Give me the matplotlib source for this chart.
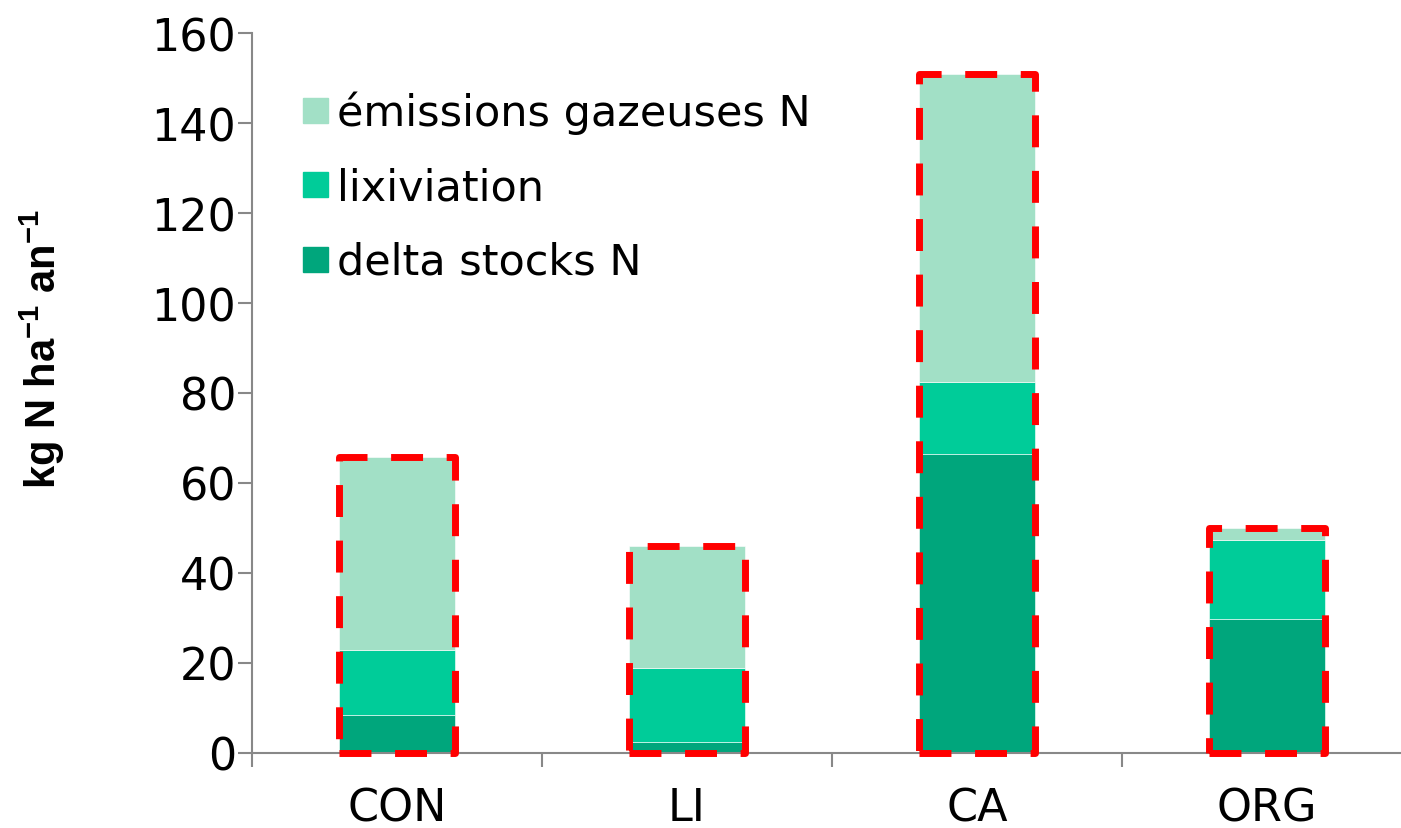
import matplotlib
matplotlib.use("Agg")
import matplotlib.pyplot as plt
from matplotlib.patches import Rectangle
from matplotlib.lines import Line2D

categories = ["CON", "LI", "CA", "ORG"]
delta_stocks = [8.4, 2.4, 66.4, 29.8]
lixiviation = [14.6, 16.4, 16.1, 17.6]
emissions = [42.8, 27.1, 68.4, 2.5]
series_names = ["émissions gazeuses N", "lixiviation", "delta stocks N"]
yticks = [0, 20, 40, 60, 80, 100, 120, 140, 160]

c_dark = "#00A67C"
c_mid = "#00CC99"
c_light = "#A2E0C6"

plt.rcParams['font.family'] = ['DejaVu Sans']
plt.rcParams['mathtext.fontset'] = 'custom'
plt.rcParams['mathtext.bf'] = 'Liberation Sans:bold'
plt.rcParams['mathtext.rm'] = 'Liberation Sans'

fig = plt.figure(figsize=(14.01, 8.29), dpi=100)
ax = fig.add_axes([252/1401, 75/829, 1 - 252/1401, 720/829])

x = list(range(len(categories)))
w = 0.4
ax.bar(x, delta_stocks, w, color=c_dark, edgecolor="white", linewidth=0.4)
bot2 = delta_stocks
ax.bar(x, lixiviation, w, bottom=bot2, color=c_mid, edgecolor="white", linewidth=0.4)
bot3 = [a + b for a, b in zip(delta_stocks, lixiviation)]
ax.bar(x, emissions, w, bottom=bot3, color=c_light, edgecolor="white", linewidth=0.4)

totals = [a + b for a, b in zip(bot3, emissions)]
for xi, t in zip(x, totals):
    r = Rectangle((xi - w / 2, 0), w, t, fill=False, edgecolor="#FF0000",
                  linewidth=5, linestyle=(0, (4.6, 3.4)), joinstyle="round",
                  capstyle="butt", zorder=5, clip_on=False)
    ax.add_patch(r)

ax.set_xlim(-0.5, 3.462)
ax.set_ylim(0, 160)
ax.set_yticks(yticks)
ax.set_yticklabels([str(v) for v in yticks], fontsize=32)
ax.set_xticks(x)
ax.set_xticklabels(categories, fontsize=32)
ax.set_xticks([-0.5, 0.5, 1.5, 2.5], minor=True)
ax.tick_params(axis="x", which="major", length=0, pad=24)
ax.tick_params(axis="x", which="minor", length=10, width=1.5, color="#888888", direction="out")
ax.tick_params(axis="y", length=10, width=1.5, color="#888888", direction="out", pad=1.5)

for s in ["top", "right"]:
    ax.spines[s].set_visible(False)
for s in ["left", "bottom"]:
    ax.spines[s].set_color("#888888")
    ax.spines[s].set_linewidth(1.5)

fig.text(42/1401, 1 - 349/829, r"kg N ha$^{\mathbf{-1}}$ an$^{\mathbf{-1}}$",
         rotation=90, va="center", ha="center", fontsize=30, fontweight="bold",
         family=['Liberation Sans Narrow', 'Liberation Sans', 'DejaVu Sans'])

handles = [Line2D([], [], marker="s", linestyle="none", markersize=18, color=c)
           for c in [c_light, c_mid, c_dark]]
ax.legend(handles, series_names, loc="upper left", bbox_to_anchor=(0.041, 0.92),
          frameon=False, fontsize=31, handletextpad=0.12, labelspacing=0.75,
          handlelength=0.75, borderaxespad=0, borderpad=0)

fig.savefig("out.png", dpi=100)
